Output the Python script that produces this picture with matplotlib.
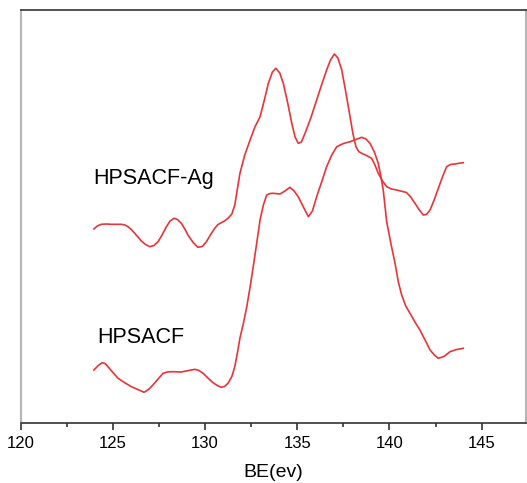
import numpy as np
import matplotlib
matplotlib.use("Agg")
import matplotlib.pyplot as plt

plt.rcParams['font.family'] = ['Liberation Sans', 'DejaVu Sans']

# binding energy (eV) and intensity (arb. units)
be_ag = [123.97, 124.15, 124.37, 124.65, 124.91, 125.2, 125.46, 125.65, 125.82, 126.0,
         126.18, 126.36, 126.54, 126.77, 127.0, 127.22, 127.45, 127.68, 127.9, 128.1,
         128.31, 128.5, 128.71, 128.9, 129.07, 129.35, 129.61, 129.85, 130.07, 130.3,
         130.52, 130.7, 130.88, 131.05, 131.24, 131.45, 131.61, 131.75, 131.89, 132.15,
         132.44, 132.7, 132.98, 133.2, 133.43, 133.65, 133.84, 134.05, 134.24, 134.48,
         134.7, 134.88, 135.05, 135.22, 135.42, 135.75, 136.05, 136.35, 136.59, 136.8,
         137.01, 137.2, 137.41, 137.62, 137.86, 138.02, 138.18, 138.33, 138.49, 138.75,
         139.03, 139.2, 139.39, 139.62, 139.85, 140.1, 140.39, 140.6, 140.75, 140.92,
         141.15, 141.38, 141.6, 141.83, 142.0, 142.2, 142.42, 142.65, 142.88, 143.1,
         143.3, 143.55, 143.78, 144.0]
int_ag = [194, 197, 198.7, 199, 198.7, 198.7, 198.7, 198, 196.3, 193.5,
          189.7, 186, 182, 178.5, 176.3, 177.5, 181.3, 188.5, 196.3, 202,
          204.7, 203.5, 199.7, 194, 188, 180.5, 175.7, 176.5, 181.3, 188.5,
          194.7, 198.5, 200.3, 202, 204.7, 209, 218, 234, 249.7, 268,
          283, 296, 306.3, 322, 339.7, 351, 354.7, 350, 339.7, 320,
          299.7, 286, 279.7, 281, 289.7, 306, 323, 340, 353, 363,
          369, 365, 353, 332, 306.3, 289, 276.3, 271.5, 269.7, 267.5,
          264.7, 258.5, 249.7, 242, 236.3, 234, 233, 232, 231.3, 230.5,
          226, 219.7, 213.5, 208, 208.5, 213, 223, 234.7, 246.5, 256.3,
          258.5, 259, 259.8, 260.3]

be_plain = [123.97, 124.2, 124.41, 124.57, 124.73, 125.0, 125.28, 125.62, 126.0, 126.35,
            126.69, 126.93, 127.17, 127.45, 127.72, 127.95, 128.17, 128.45, 128.71, 129.1,
            129.44, 129.67, 129.89, 130.15, 130.43, 130.66, 130.88, 131.05, 131.24, 131.45,
            131.61, 131.75, 131.89, 132.08, 132.26, 132.44, 132.61, 132.8, 132.98, 133.16,
            133.34, 133.52, 133.7, 133.88, 134.06, 134.33, 134.6, 134.83, 135.05, 135.33,
            135.6, 135.82, 136.05, 136.32, 136.59, 136.87, 137.14, 137.5, 137.86, 138.18,
            138.49, 138.72, 138.94, 139.18, 139.39, 139.52, 139.66, 139.85, 140.07, 140.3,
            140.48, 140.66, 140.88, 141.11, 141.38, 141.65, 141.93, 142.2, 142.43, 142.65,
            142.95, 143.28, 143.64, 144.0]
int_plain = [53, 57.5, 60.3, 59.5, 56.3, 50.5, 44.7, 40.5, 36.3, 33.5,
             30.7, 33.5, 38, 44, 49.7, 51, 51.3, 51.2, 51, 52.5,
             53.7, 52.5, 49.7, 45, 40.3, 37.5, 35.7, 36.5, 39.7, 46.5,
             56.3, 70, 85, 100, 116.3, 136, 156.3, 180, 203, 218,
             228, 229.5, 229.7, 229.3, 229, 232, 235.7, 232, 226.3, 216,
             206.3, 212, 226.3, 241, 256.3, 268, 276.3, 279.5, 281.3, 283.5,
             285.7, 284, 279.7, 271, 259.7, 248, 233, 201, 180, 159.7,
             141, 128, 117, 109.7, 101, 93, 83, 73, 68, 64.7,
             66.5, 71.3, 73.5, 74.7]

labels = ['HPSACF-Ag', 'HPSACF']
xticks = [120, 125, 130, 135, 140, 145]

fig = plt.figure(figsize=(5.27, 4.83), dpi=100)
ax = fig.add_axes([0.0393, 0.1242, 0.9587, 0.8551])

red = '#e8343a'
ax.plot(be_ag, int_ag, color=red, lw=1.2, solid_joinstyle='round')
ax.plot(be_plain, int_plain, color=red, lw=1.2, solid_joinstyle='round')

ax.text(123.95, 245, labels[0], fontsize=15.5, va='center', ha='left')
ax.text(124.15, 86, labels[1], fontsize=15.5, va='center', ha='left')

ax.set_xlim(120, 147.4)
ax.set_ylim(0, 413)
ax.set_xticks(xticks)
ax.set_xticks(np.arange(122.5, 147.5, 5), minor=True)
ax.set_yticks([])
ax.tick_params(axis='x', which='major', length=5, width=1.2, color='#333333',
               labelsize=12, pad=4)
ax.tick_params(axis='x', which='minor', length=3, width=1.2, color='#333333')
ax.set_xlabel('BE(ev)', fontsize=14, labelpad=10)

for side in ['top', 'bottom']:
    ax.spines[side].set_color('#333333')
    ax.spines[side].set_linewidth(1.2)
for side in ['left', 'right']:
    ax.spines[side].set_color('#b5b5b5')
    ax.spines[side].set_linewidth(1.5)

fig.savefig('out.png', dpi=100)
